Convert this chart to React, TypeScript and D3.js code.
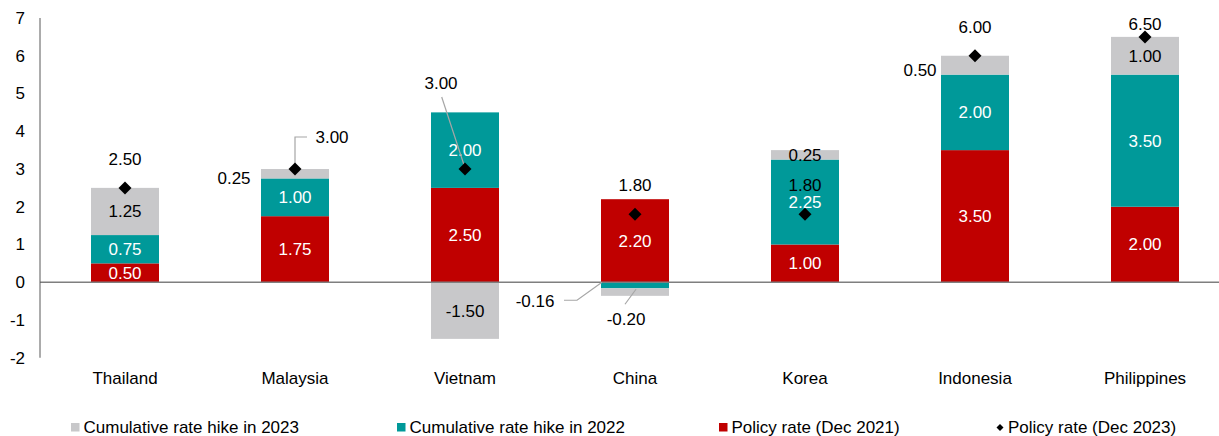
import React from "react";
import * as d3 from "d3";

const categories = ["Thailand", "Malaysia", "Vietnam", "China", "Korea", "Indonesia", "Philippines"];
const policy2021 = [0.5, 1.75, 2.5, 2.2, 1.0, 3.5, 2.0];
const hike2022 = [0.75, 1.0, 2.0, -0.16, 2.25, 2.0, 3.5];
const hike2023 = [1.25, 0.25, -1.5, -0.2, 0.25, 0.5, 1.0];
const policy2023 = [2.5, 3.0, 3.0, 1.8, 1.8, 6.0, 6.5];
const yTicks = [-2, -1, 0, 1, 2, 3, 4, 5, 6, 7];

const seriesKeys = ["policy2021", "hike2022", "hike2023"];
const seriesNames: Record<string, string> = {
  hike2023: "Cumulative rate hike in 2023",
  hike2022: "Cumulative rate hike in 2022",
  policy2021: "Policy rate (Dec 2021)",
};
const colors: Record<string, string> = {
  policy2021: "#C00000",
  hike2022: "#009999",
  hike2023: "#C8C8CA",
};
const textColors: Record<string, string> = {
  policy2021: "#ffffff",
  hike2022: "#ffffff",
  hike2023: "#000000",
};

// label placement overrides (layout, not data)
type Outside = { dx: number; dy: number; leader?: [number, number][] };
const segmentOutside: Record<string, Outside> = {
  "Malaysia|hike2023": { dx: -61, dy: 4.5 },
  "Indonesia|hike2023": { dx: -55, dy: 5 },
  "China|hike2022": { dx: -100, dy: 19, leader: [[-71, 18], [-58, 18], [-33, 0]] },
  "China|hike2023": { dx: -9, dy: 37, leader: [[-10, 22], [1, 7]] },
};
const diamondLabel: Record<string, Outside> = {
  Malaysia: { dx: 37, dy: -32, leader: [[0, -5], [0, -32], [12, -32]] },
  Vietnam: { dx: -24, dy: -86, leader: [[-23.3, -72], [0, -1]] },
  Philippines: { dx: 0, dy: -13 },
};

const W = 1219;
const H = 436;
const FONT = "'Liberation Sans', Arial, sans-serif";
const FS = 17;

export default function App() {
  const x = d3.scaleBand<string>().domain(categories).range([40, 1230]).paddingInner(0.6).paddingOuter(0.3);
  const y = d3.scaleLinear().domain([-2, 7]).range([357.75, 18]);

  const table = categories.map((c, i) => ({
    category: c,
    policy2021: policy2021[i],
    hike2022: hike2022[i],
    hike2023: hike2023[i],
  }));
  const stack = d3
    .stack<any>()
    .keys(seriesKeys)
    .offset(d3.stackOffsetDiverging);
  const stacked = stack(table);

  const bw = x.bandwidth();
  const cx = (c: string) => (x(c) as number) + bw / 2;
  const line = d3.line();
  const diamond = (px: number, py: number, r: number) =>
    `M${px},${py - r}L${px + r},${py}L${px},${py + r}L${px - r},${py}Z`;

  const legendItems = [
    { key: "hike2023", x: 71 },
    { key: "hike2022", x: 397 },
    { key: "policy2021", x: 719 },
  ];
  const LY = 427.5;

  return (
    <svg
      width={W}
      height={H}
      style={{ position: "absolute", left: 0, top: 0, background: "#fff" }}
      fontFamily={FONT}
      fontSize={FS}
    >
      {/* bars */}
      {stacked.map((s) => (
        <g key={s.key}>
          {s.map((d, i) => {
            const c = categories[i];
            const y0 = y(Math.max(d[0], d[1]));
            const y1 = y(Math.min(d[0], d[1]));
            return (
              <rect key={c} x={x(c)} y={y0} width={bw} height={y1 - y0} fill={colors[s.key]} />
            );
          })}
        </g>
      ))}

      {/* zero line */}
      <line x1={40} x2={W} y1={y(0)} y2={y(0)} stroke="#7f7f7f" strokeWidth={1.5} />
      {/* y axis */}
      <line x1={40} x2={40} y1={y(7)} y2={y(-2)} stroke="#595959" strokeWidth={1} />
      {yTicks.map((t) => (
        <text key={t} x={25} y={y(t)} dy="0.35em" textAnchor="end" fill="#000">
          {t}
        </text>
      ))}

      {/* x labels */}
      {categories.map((c) => (
        <text key={c} x={cx(c)} y={378} dy="0.35em" textAnchor="middle" fill="#000">
          {c}
        </text>
      ))}

      {/* segment labels */}
      {stacked.map((s) => (
        <g key={"l" + s.key}>
          {s.map((d, i) => {
            const c = categories[i];
            const v = (d.data as any)[s.key] as number;
            const mid = y((d[0] + d[1]) / 2);
            const bx = cx(c);
            const o = segmentOutside[c + "|" + s.key];
            if (o) {
              return (
                <g key={c}>
                  {o.leader && (
                    <path
                      d={line(o.leader.map(([dx, dy]) => [bx + dx, y(0) + dy]) as [number, number][]) || ""}
                      fill="none"
                      stroke="#a6a6a6"
                      strokeWidth={1.2}
                    />
                  )}
                  <text
                    x={bx + o.dx}
                    y={(o.leader ? y(0) : mid) + o.dy}
                    dy="0.35em"
                    textAnchor="middle"
                    fill="#000"
                  >
                    {v.toFixed(2)}
                  </text>
                </g>
              );
            }
            return (
              <text key={c} x={bx} y={mid} dy="0.35em" textAnchor="middle" fill={textColors[s.key]}>
                {v.toFixed(2)}
              </text>
            );
          })}
        </g>
      ))}

      {/* Dec 2023 diamonds and labels */}
      {categories.map((c, i) => {
        const px = cx(c);
        const py = y(policy2023[i]);
        const o = diamondLabel[c] || { dx: 0, dy: -29 };
        return (
          <g key={"d" + c}>
            {o.leader && (
              <path
                d={line(o.leader.map(([dx, dy]) => [px + dx, py + dy]) as [number, number][]) || ""}
                fill="none"
                stroke="#a6a6a6"
                strokeWidth={1.2}
              />
            )}
            <path d={diamond(px, py, 6.5)} fill="#000" />
            <text x={px + o.dx} y={py + o.dy} dy="0.35em" textAnchor="middle" fill="#000">
              {policy2023[i].toFixed(2)}
            </text>
          </g>
        );
      })}

      {/* legend */}
      {legendItems.map((l) => (
        <g key={l.key}>
          <rect x={l.x} y={LY - 4.5} width={8.5} height={8.5} fill={colors[l.key]} />
          <text x={l.x + 12.5} y={LY} dy="0.35em" fill="#000">
            {seriesNames[l.key]}
          </text>
        </g>
      ))}
      <path d={diamond(1000, LY, 3.5)} fill="#000" />
      <text x={1008} y={LY} dy="0.35em" fill="#000">
        Policy rate (Dec 2023)
      </text>
    </svg>
  );
}
